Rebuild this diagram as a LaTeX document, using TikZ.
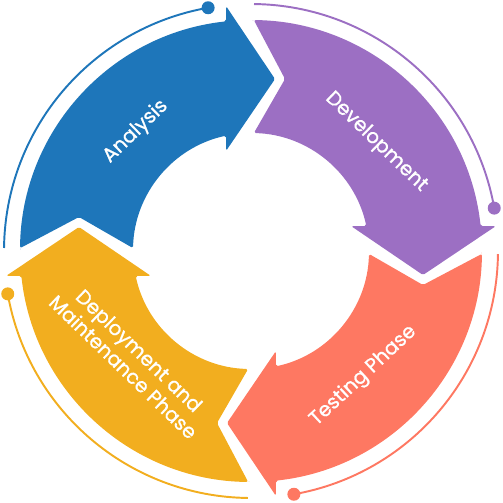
\documentclass[tikz,border=0pt]{standalone}
\usepackage{fontspec}
\setmainfont{Poppins}
\newfontfamily\phasefont{Poppins}[FakeBold=1]
\definecolor{cblue}{HTML}{1E76BA}
\definecolor{cpurple}{HTML}{9C6FC3}
\definecolor{ccoral}{HTML}{FE7862}
\definecolor{cyellow}{HTML}{F2AE1F}
\tikzset{
  phase/.style={font=\phasefont\fontsize{11.3}{13}\selectfont, text=white, align=center},
  ring/.style={line width=1.1pt},
}
\begin{document}
\begin{tikzpicture}[scale=0.02]
\useasboundingbox (-251,-252) rectangle (252,251);
% one arrow, turned four times
\foreach \ang/\col in {0/cblue, -90/cpurple, -180/ccoral, -270/cyellow}{
\begin{scope}[rotate=\ang]
\fill[\col, rounded corners=1pt] (179.3:231) -- (-172,34) -- (178.6:118)
  arc[start angle=178.6, end angle=102.2, radius=118] -- (-25,100) -- (24,172)
  -- (-25,245) -- (96.2:231) arc[start angle=96.2, end angle=179.3, radius=231] -- cycle;
\draw[ring, \col] (179.3:247) arc[start angle=179.3, end angle=100, radius=247];
\fill[\col] (100:247) circle[radius=6.5];
\end{scope}
}
% labels
\node[phase, rotate=44] (analysis) at (134:166) {Analysis};
\node[phase, rotate=-44] (development) at (41:166) {Development};
\node[phase, rotate=43] (testing) at (-48:168) {Testing Phase};
\node[phase, rotate=-44] (deployment) at (222:161) {Deployment and\\Maintenance Phase};
\end{tikzpicture}
\end{document}
